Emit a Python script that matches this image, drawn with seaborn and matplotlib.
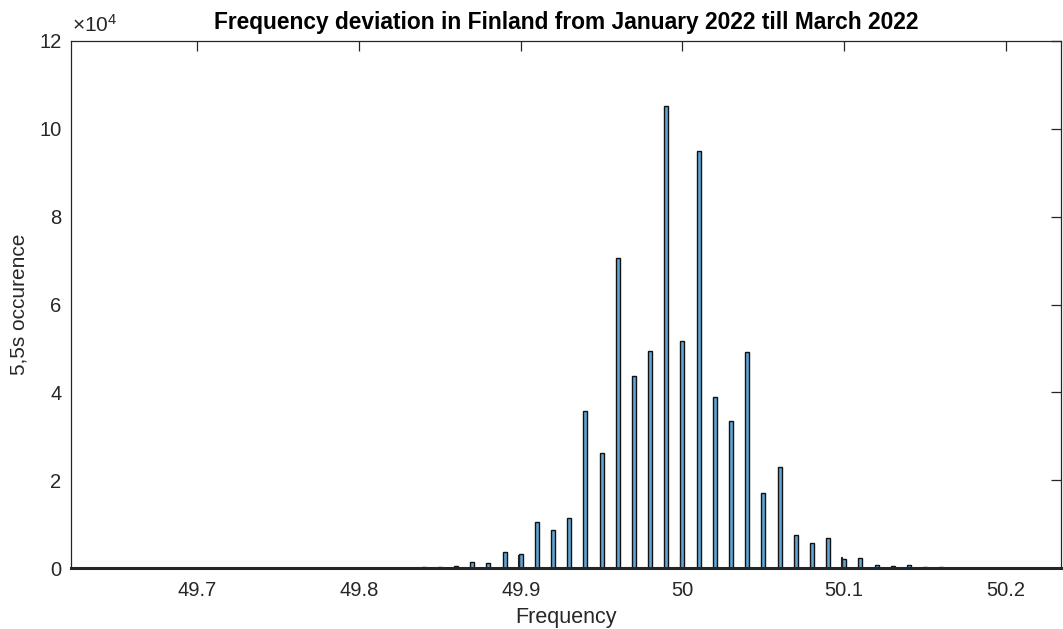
import numpy as np
import pandas as pd
import matplotlib
matplotlib.use("Agg")
import matplotlib.pyplot as plt
from matplotlib.ticker import FuncFormatter
import seaborn as sns

# Grid frequency readings (Hz) and how many 5.5 s samples fell on each value
freq = [49.84, 49.85, 49.86, 49.87, 49.88, 49.89, 49.90, 49.91, 49.92, 49.93,
        49.94, 49.95, 49.96, 49.97, 49.98, 49.99, 50.00, 50.01, 50.02, 50.03,
        50.04, 50.05, 50.06, 50.07, 50.08, 50.09, 50.10, 50.11, 50.12, 50.13,
        50.14, 50.15, 50.16]
counts = [150, 150, 400, 1300, 1100, 3600, 3100, 10400, 8600, 11400,
          35800, 26200, 70600, 43700, 49400, 105200, 51700, 95000, 39000, 33500,
          49200, 17100, 23000, 7500, 5700, 6800, 2000, 2300, 700, 500,
          600, 150, 150]

# Readings that landed just below the round values (rounding in the bin edges)
split_freq = [49.90, 50.00, 50.10]
split_counts = [2900, 2500, 2500]

x_ticks = [49.7, 49.8, 49.9, 50.0, 50.1, 50.2]
y_ticks = [0, 20000, 40000, 60000, 80000, 100000, 120000]

sns.set_theme(style="white")
plt.rcParams["font.family"] = ["Liberation Sans", "DejaVu Sans"]
plt.rcParams["mathtext.fontset"] = "custom"
plt.rcParams["mathtext.rm"] = "Liberation Sans"
plt.rcParams["mathtext.it"] = "Liberation Sans:italic"

W, H = 1063, 629
fig = plt.figure(figsize=(W / 100, H / 100), dpi=100)
ax = fig.add_axes([71 / W, 1 - 568 / H, (1061 - 71) / W, (568 - 41) / H])

ink = "#262626"
face = "#5fa5d6"

bar_w = 0.0025
main = pd.DataFrame({"freq": freq, "count": counts})
edges = np.sort(np.concatenate([main["freq"] - bar_w / 2, main["freq"] + bar_w / 2]))
sns.histplot(data=main, x="freq", weights="count", bins=edges.tolist(), color=face,
             edgecolor="#111111", linewidth=1.0, alpha=1.0, ax=ax)

sliver_w = 0.0005
split = pd.DataFrame({"freq": split_freq, "count": split_counts})
split["pos"] = split["freq"] - bar_w / 2 - sliver_w / 2
s_edges = np.sort(np.concatenate([split["pos"] - sliver_w / 2, split["pos"] + sliver_w / 2]))
sns.histplot(data=split, x="pos", weights="count", bins=s_edges.tolist(),
             color="#222222", edgecolor="#222222", linewidth=0.8, alpha=1.0, ax=ax)

ax.set_xlim(49.622, 50.234)
ax.set_ylim(0, 120000)
ax.set_xticks(x_ticks)
ax.set_yticks(y_ticks)
ax.xaxis.set_major_formatter(FuncFormatter(lambda v, p: f"{v:g}"))
ax.yaxis.set_major_formatter(FuncFormatter(lambda v, p: f"{v / 1e4:g}"))

ax.tick_params(axis="both", direction="in", length=7, width=0.9, colors=ink,
               labelsize=14.5, top=True, right=True)
ax.tick_params(axis="x", pad=9)
ax.tick_params(axis="y", pad=7)
for side, sp in ax.spines.items():
    sp.set_visible(True)
    sp.set_color(ink)
    sp.set_linewidth(0.9)
ax.spines["bottom"].set_linewidth(2.2)

ax.set_title("Frequency deviation in Finland from January 2022 till March 2022",
             fontsize=16.4, fontweight="bold", color="black", pad=9)
ax.set_xlabel("Frequency", fontsize=15.5, color=ink)
ax.set_ylabel("5,5s occurence", fontsize=15, color=ink)
ax.xaxis.set_label_coords(0.5, -0.074)
ax.yaxis.set_label_coords(-0.043, 0.5)

ax.text(0.001, 1.010, r"$\times10^{4}$", transform=ax.transAxes,
        fontsize=15, color=ink, ha="left", va="bottom")

fig.savefig("out.png", dpi=100, facecolor="white")
